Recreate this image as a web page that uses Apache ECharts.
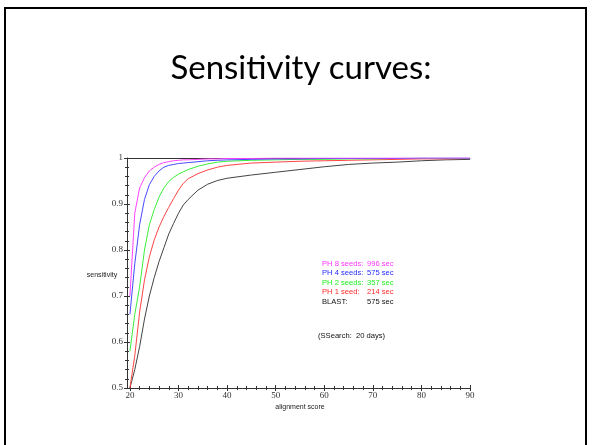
<!DOCTYPE html>
<html>
<head>
<meta charset="utf-8">
<script src="https://cdn.jsdelivr.net/npm/echarts@6/dist/echarts.min.js"></script>
<style>
html, body { margin: 0; padding: 0; background: #fff; }
#chart { width: 592px; height: 445px; }
</style>
</head>
<body>
<div id="chart"></div>
<script>
// alignment scores (x) and sensitivity
var scores = [20, 21, 22, 23, 24, 25, 26, 27, 28, 29, 30, 31, 32, 34, 36, 38, 40, 45, 50, 55, 60, 65, 70, 75, 80, 85, 90];
var blast = [0.50, 0.54, 0.59, 0.65, 0.70, 0.74, 0.775, 0.805, 0.835, 0.858, 0.88, 0.898, 0.91, 0.93, 0.943, 0.951, 0.956, 0.963, 0.969, 0.975, 0.981, 0.986, 0.989, 0.991, 0.994, 0.996, 0.997];
var ph1 = [0.50, 0.57, 0.665, 0.735, 0.785, 0.822, 0.85, 0.873, 0.893, 0.912, 0.93, 0.945, 0.955, 0.966, 0.974, 0.98, 0.984, 0.989, 0.991, 0.993, 0.994, 0.995, 0.996, 0.997, 0.998, 0.998, 0.999];
var ph2 = [0.58, 0.66, 0.72, 0.80, 0.855, 0.888, 0.915, 0.935, 0.949, 0.958, 0.965, 0.97, 0.975, 0.982, 0.987, 0.991, 0.993, 0.995, 0.996, 0.997, 0.997, 0.998, 0.998, 0.999, 0.999, 0.999, 0.999];
var ph4 = [0.66, 0.77, 0.855, 0.91, 0.942, 0.96, 0.972, 0.98, 0.984, 0.986, 0.988, 0.989, 0.99, 0.992, 0.994, 0.995, 0.996, 0.997, 0.998, 0.998, 0.999, 0.999, 0.999, 0.999, 1, 1, 1];
var ph8 = [0.70, 0.88, 0.935, 0.957, 0.972, 0.98, 0.986, 0.99, 0.992, 0.994, 0.995, 0.996, 0.996, 0.997, 0.998, 0.998, 0.999, 0.999, 1, 1, 1, 1, 1, 1, 1, 1, 1];

// tick labels
var xMajor = [20, 30, 40, 50, 60, 70, 80, 90];
var xMinor = [22, 24, 26, 28, 32, 34, 36, 38, 42, 44, 46, 48, 52, 54, 56, 58, 62, 64, 66, 68, 72, 74, 76, 78, 82, 84, 86, 88];
var yMajor = [0.5, 0.6, 0.7, 0.8, 0.9, 1];
var yMinor = [0.52, 0.54, 0.56, 0.58, 0.62, 0.64, 0.66, 0.68, 0.72, 0.74, 0.76, 0.78, 0.82, 0.84, 0.86, 0.88, 0.92, 0.94, 0.96, 0.98];

// text block on the right
var noteNames = ['PH 8 seeds:', 'PH 4 seeds:', 'PH 2 seeds:', 'PH 1 seed:', 'BLAST:'];
var noteTimes = ['996 sec', '575 sec', '357 sec', '214 sec', '575 sec'];
var noteColors = ['#ff33ff', '#2a2aff', '#22ee22', '#ff2a2a', '#111'];

var XMIN = 19.4, XMAX = 90, YMIN = 0.5, YMAX = 1;
var axisColor = '#333';

function pairs(arr) {
    return scores.map(function (x, i) { return [x, arr[i]]; });
}

// axis that only draws ticks (ticks cross the axis line: offset by half their length)
function tickAxis(isX, ticks, len) {
    return {
        type: 'value',
        position: isX ? 'bottom' : 'left',
        min: isX ? XMIN : YMIN,
        max: isX ? XMAX : YMAX,
        offset: -len / 2,
        axisLine: { show: false },
        axisLabel: { show: false },
        splitLine: { show: false },
        axisTick: { show: true, customValues: ticks, length: len, lineStyle: { color: axisColor, width: 1 } }
    };
}

var chart = echarts.init(document.getElementById('chart'));

var graphics = [
    { type: 'rect', shape: { x: 5, y: 8, width: 581, height: 470 }, style: { fill: null, stroke: '#000', lineWidth: 2 } },
    { type: 'text', x: 301, y: 68, style: { text: 'Sensitivity curves:', font: '33px Lato', fill: '#000', align: 'center', verticalAlign: 'middle' } },
    { type: 'text', x: 102, y: 275, style: { text: 'sensitivity', font: '7px "Liberation Sans"', fill: '#222', align: 'center', verticalAlign: 'middle' } },
    { type: 'text', x: 300, y: 407, style: { text: 'alignment score', font: '7px "Liberation Sans"', fill: '#222', align: 'center', verticalAlign: 'middle' } },
    { type: 'text', x: 318, y: 336, style: { text: '(SSearch:  20 days)', font: '7.6px "Liberation Sans"', fill: '#111', align: 'left', verticalAlign: 'middle' } }
];
noteNames.forEach(function (n, i) {
    var y = 264 + i * 9.4;
    graphics.push({ type: 'text', x: 322, y: y, style: { text: n, font: '7.6px "Liberation Sans"', fill: noteColors[i], align: 'left', verticalAlign: 'middle' } });
    graphics.push({ type: 'text', x: 367, y: y, style: { text: noteTimes[i], font: '7.6px "Liberation Sans"', fill: noteColors[i], align: 'left', verticalAlign: 'middle' } });
});

var option = {
    animation: false,
    backgroundColor: '#fff',
    grid: { left: 127, right: 122, top: 158, bottom: 57 },
    xAxis: [
        {
            type: 'value', position: 'bottom', min: XMIN, max: XMAX,
            axisLine: { show: true, lineStyle: { color: axisColor, width: 1 } },
            axisTick: { show: false },
            splitLine: { show: false },
            axisLabel: {
                customValues: xMajor, margin: 3,
                color: '#333', fontFamily: 'Liberation Serif', fontSize: 9
            }
        },
        tickAxis(true, xMajor, 6),
        tickAxis(true, xMinor, 4),
        {
            // frame line along sensitivity = 1
            type: 'value', position: 'top', min: XMIN, max: XMAX,
            axisLine: { show: true, lineStyle: { color: axisColor, width: 1 } },
            axisTick: { show: false }, axisLabel: { show: false }, splitLine: { show: false }
        }
    ],
    yAxis: [
        {
            type: 'value', position: 'left', min: YMIN, max: YMAX,
            axisLine: { show: true, lineStyle: { color: axisColor, width: 1 } },
            axisTick: { show: false },
            splitLine: { show: false },
            axisLabel: {
                customValues: yMajor, margin: 4,
                color: '#333', fontFamily: 'Liberation Serif', fontSize: 9,
                formatter: function (v) { return v === 1 ? '1' : v.toFixed(1); }
            }
        },
        tickAxis(false, yMajor, 6),
        tickAxis(false, yMinor, 4)
    ],
    graphic: graphics,
    series: [
        { name: 'BLAST', data: pairs(blast), color: '#444' },
        { name: 'PH 1 seed', data: pairs(ph1), color: '#ff4444' },
        { name: 'PH 2 seeds', data: pairs(ph2), color: '#3aee3a' },
        { name: 'PH 4 seeds', data: pairs(ph4), color: '#4848ff' },
        { name: 'PH 8 seeds', data: pairs(ph8), color: '#ff44ff' }
    ].map(function (s) {
        return {
            type: 'line', name: s.name, data: s.data,
            xAxisIndex: 0, yAxisIndex: 0,
            symbol: 'none', smooth: false,
            lineStyle: { color: s.color, width: 1 },
            itemStyle: { color: s.color }
        };
    })
};

chart.setOption(option);
</script>
</body>
</html>
